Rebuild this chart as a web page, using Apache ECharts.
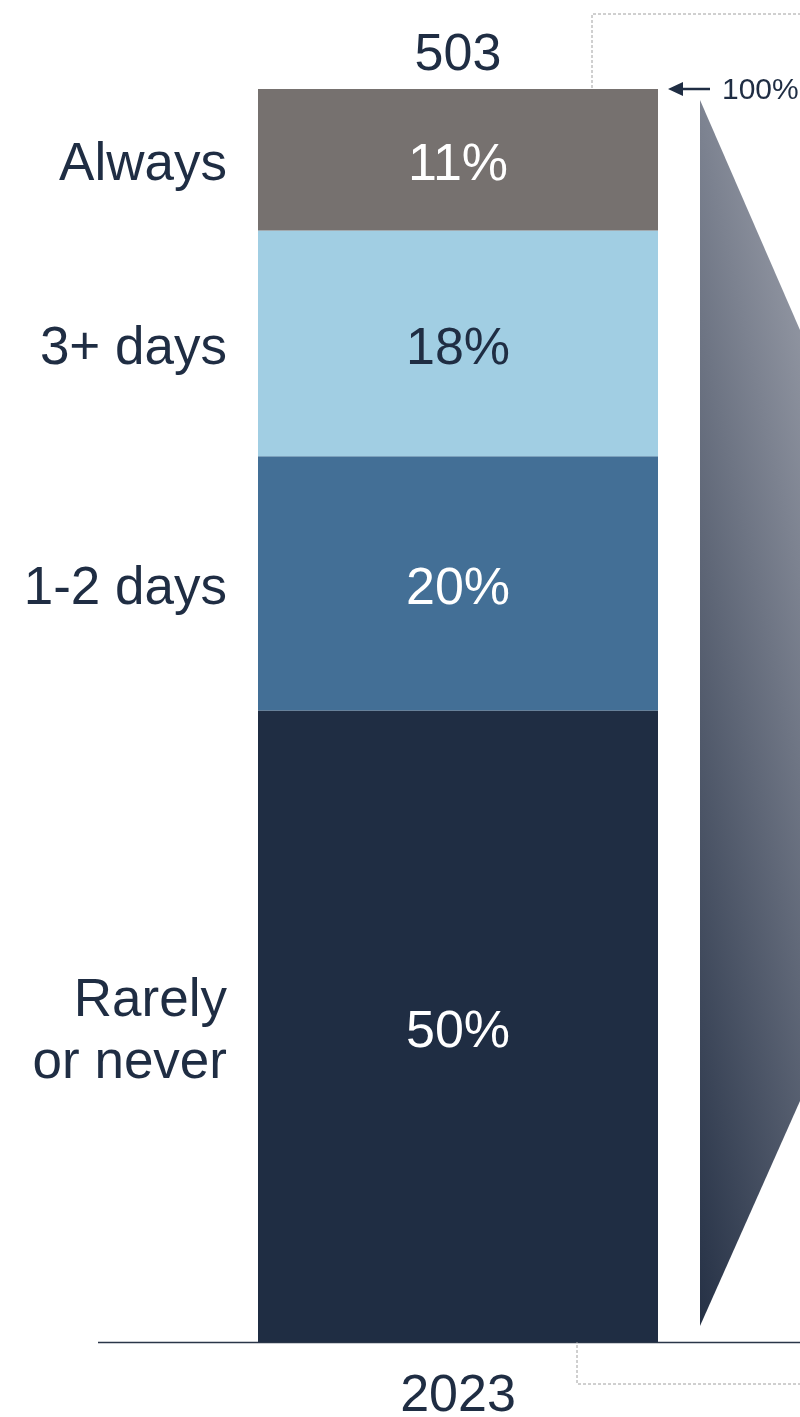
<!DOCTYPE html>
<html>
<head>
<meta charset="utf-8">
<script src="https://cdn.jsdelivr.net/npm/echarts@6/dist/echarts.min.js"></script>
<style>html,body{margin:0;padding:0;background:#fff;}#c{width:800px;height:1417px;}</style>
</head>
<body>
<div id="c"></div>
<script>
// ---- data ----
var categories = ['2023'];
var segmentNames = ['Rarely\nor never', '1-2 days', '3+ days', 'Always']; // bottom to top
var rarelyNever = [50.4];
var oneTwoDays = [20.3];
var threePlusDays = [18.0];
var always = [11.4];
var totals = ['503'];
var topRefValue = 100; // "100%" marker

var segmentValues = [rarelyNever, oneTwoDays, threePlusDays, always];
var segmentColors = ['#1F2D43', '#436F96', '#A1CEE3', '#76716F'];
var labelColors = ['#FFFFFF', '#FFFFFF', '#1F2D43', '#FFFFFF'];
var NAVY = '#1F2D43';
var FONT = 'Liberation Sans, Arial, sans-serif';

var chart = echarts.init(document.getElementById('c'), null, {renderer: 'canvas'});

var series = [];
segmentNames.forEach(function (name, i) {
  series.push({
    name: name, type: 'bar', stack: 'a', barWidth: 400, barGap: '-100%',
    data: segmentValues[i],
    itemStyle: {color: segmentColors[i]},
    label: {show: true, position: 'inside', offset: [0, 6], color: labelColors[i], fontSize: 52, fontFamily: FONT,
      formatter: function (p) { return Math.round(p.value) + '%'; }},
    emphasis: {disabled: true}, silent: true
  });
});
segmentNames.forEach(function (name, i) {
  series.push({
    name: name + '_lbl', type: 'bar', stack: 'b', barWidth: 400, barGap: '-100%',
    data: segmentValues[i],
    itemStyle: {color: 'rgba(0,0,0,0)'},
    label: {show: true, position: 'left', distance: 31, offset: [0, 6], color: NAVY, fontSize: 53, lineHeight: 62,
      fontFamily: FONT, align: 'right', formatter: function () { return name; }},
    silent: true
  });
});

chart.setOption({
  animation: false,
  grid: {left: 116, top: 89, right: 0, bottom: 75, containLabel: false, outerBoundsMode: 'none'},
  xAxis: [
    {type: 'category', data: categories, position: 'bottom',
      axisLine: {show: false}, axisTick: {show: false},
      axisLabel: {color: NAVY, fontSize: 52, fontFamily: FONT, margin: 29}},
    {type: 'category', data: totals, position: 'top',
      axisLine: {show: false}, axisTick: {show: false},
      axisLabel: {color: NAVY, fontSize: 52, fontFamily: FONT, margin: 7}}
  ],
  yAxis: {type: 'value', min: 0, max: 100, show: false},
  series: series
});

// annotations tied to the axis scale
var y100 = chart.convertToPixel({yAxisIndex: 0}, topRefValue);
var y0 = chart.convertToPixel({yAxisIndex: 0}, 0);
var xc = chart.convertToPixel({xAxisIndex: 0}, categories[0]);
var barRight = xc + 200;
var dash = {stroke: '#A0A0A0', lineWidth: 1, lineDash: [3, 2]};
var polyTop = y100 + 11, polyBot = y0 - 16;
chart.setOption({
  graphic: [
    {type: 'line', silent: true, shape: {x1: 98, y1: y0 + 0.5, x2: 820, y2: y0 + 0.5},
      style: {stroke: '#2A3649', lineWidth: 1.5}},
    {type: 'polygon', silent: true, shape: {points: [
        [barRight + 42, polyTop], [barRight + 242, polyTop + 460],
        [barRight + 242, polyBot - 450], [barRight + 42, polyBot]]},
      style: {fill: new echarts.graphic.LinearGradient(431, 178, 796, 99, [
        {offset: 0, color: '#1F2B40'}, {offset: 0.737, color: '#7C8290'}, {offset: 1, color: '#9DA1AC'}], true)}},
    {type: 'polyline', silent: true, shape: {points: [[barRight - 66, y100 - 1], [barRight - 66, 14], [820, 14]]}, style: dash},
    {type: 'polyline', silent: true, shape: {points: [[barRight - 81, y0 - 7], [barRight - 81, 1384], [820, 1384]]}, style: dash},
    {type: 'line', silent: true, shape: {x1: barRight + 20, y1: y100, x2: barRight + 52, y2: y100},
      style: {stroke: NAVY, lineWidth: 2.5}},
    {type: 'polygon', silent: true, shape: {points: [[barRight + 10, y100], [barRight + 25, y100 - 7], [barRight + 25, y100 + 7]]},
      style: {fill: NAVY}},
    {type: 'text', silent: true, x: barRight + 64, y: y100 + 2,
      style: {text: topRefValue + '%', fill: NAVY, fontSize: 30, fontFamily: FONT, verticalAlign: 'middle', align: 'left'}}
  ]
});
</script>
</body>
</html>
